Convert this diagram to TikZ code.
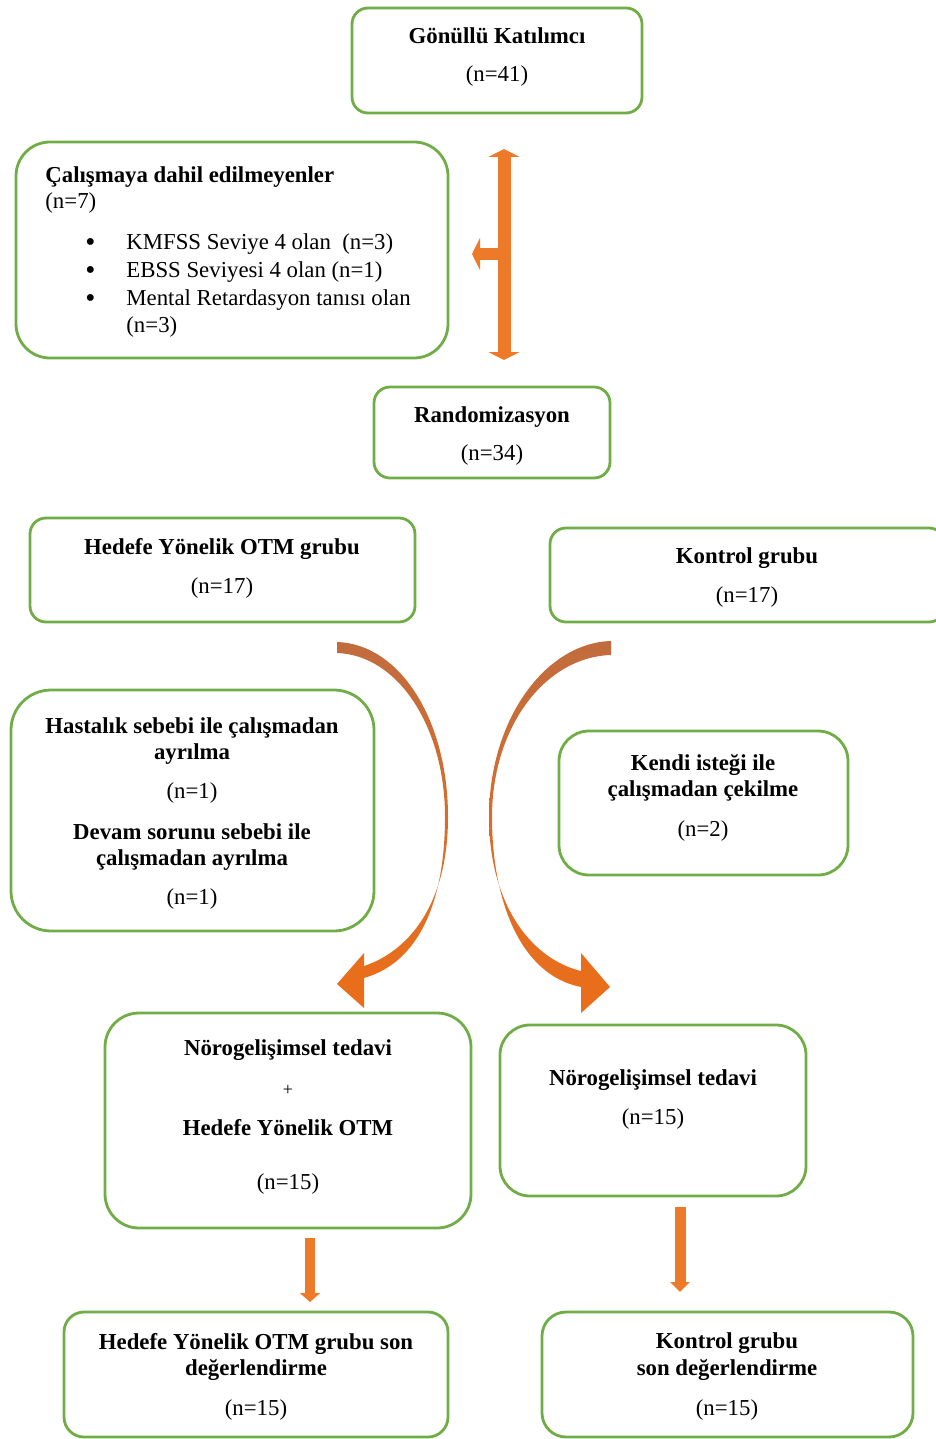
\documentclass[tikz,border=0pt]{standalone}
\usepackage{fontspec}
\setmainfont{Liberation Serif}
\usetikzlibrary{arrows.meta}
\definecolor{boxgreen}{RGB}{112,173,71}
\definecolor{arroworange}{RGB}{237,122,40}
\definecolor{curvebrown}{RGB}{193,108,62}
\definecolor{curveorange}{RGB}{233,110,28}
\tikzset{
  grbox/.style={draw=boxgreen,line width=1.4pt,rounded corners=8pt,inner sep=0pt},
  bigbox/.style={grbox,rounded corners=17pt},
  txt/.style={align=center,inner sep=0pt,yshift=-1.25pt,font=\fontsize{11.4}{13}\selectfont},
  thickarrow/.style={draw=arroworange,line width=#1},
  thickarrow/.default=6pt,
}
\newcommand{\itm}[1]{\hspace*{20pt}\makebox[20.5pt][l]{\raisebox{-0.6pt}{\Large\textbullet}}#1}

\begin{document}
\begin{tikzpicture}[x=0.5pt,y=-0.5pt]
\useasboundingbox (0,0) rectangle (936,1439);

% top part
\node[grbox,minimum width=145pt,minimum height=52.5pt] (gon) at (497,60.5) {};
\node[txt] (gon-t) at (497,55) {\textbf{Gönüllü Katılımcı}\\[6pt](n=41)};

\node[bigbox,minimum width=216pt,minimum height=108pt] (cal) at (232,250) {};
\node[txt,align=left,anchor=west] (cal-t) at (45,250) {\textbf{Çalışmaya dahil edilmeyenler}\\(n=7)\\[7.5pt]
  \itm{KMFSS Seviye 4 olan \ (n=3)}\\[1pt]
  \itm{EBSS Seviyesi 4 olan (n=1)}\\[1pt]
  \itm{Mental Retardasyon tanısı olan}\\[0.5pt]
  \hspace*{40.5pt}(n=3)};

\node[grbox,minimum width=118pt,minimum height=45.5pt] (ran) at (492,432.5) {};
\node[txt] (ran-t) at (492,434) {\textbf{Randomizasyon}\\[6pt](n=34)};

% vertical arrow
\coordinate (vtop) at (504,149);
\coordinate (vbot) at (504,360);
\coordinate (vmid) at (504,254);
\coordinate (vleft) at (472,254);
\draw[thickarrow=6.5pt,{Triangle[width=15.5pt,length=4pt]}-{Triangle[width=15.5pt,length=4pt]}] (vtop) -- (vbot);
\draw[thickarrow,-{Triangle[width=16pt,length=4pt]}] (vmid) -- (vleft);

% groups
\node[grbox,minimum width=192.5pt,minimum height=52pt] (hed) at (222.5,570) {};
\node[txt] (hed-t) at (222,565.5) {\textbf{Hedefe Yönelik OTM grubu}\\[6.5pt](n=17)};

\node[grbox,minimum width=197.5pt,minimum height=47pt] (kon) at (747.5,575) {};
\node[txt] (kon-t) at (747,575.5) {\textbf{Kontrol grubu}\\[6.5pt](n=17)};

% drop outs
\node[bigbox,rounded corners=20pt,minimum width=181.5pt,minimum height=120.5pt] (has) at (192.5,810.5) {};
\node[txt] (has-t) at (192,811.5) {\textbf{Hastalık sebebi ile çalışmadan}\\\textbf{ayrılma}\\[6.5pt](n=1)\\[7.5pt]
  \textbf{Devam sorunu sebebi ile}\\\textbf{çalışmadan ayrılma}\\[6.5pt](n=1)};

\node[bigbox,rounded corners=15pt,minimum width=144.5pt,minimum height=72pt] (ken) at (703.5,803) {};
\node[txt] (ken-t) at (703,795) {\textbf{Kendi isteği ile}\\\textbf{çalışmadan çekilme}\\[7pt](n=2)};

% curved arrows
\shade[top color=curvebrown,bottom color=curveorange]
  (337,642) .. controls (400,644) and (448,720) .. (448,817)
  .. controls (448,900) and (412,950) .. (364,966)
  -- (364,978) .. controls (420,962) and (445,900) .. (445,817)
  .. controls (445,727) and (398,655) .. (337,653) -- cycle;
\fill[curveorange] (364,953) -- (337,984) -- (364,1008) -- cycle;

\shade[top color=curvebrown,bottom color=curveorange]
  (611,641) .. controls (545,643) and (489,720) .. (489,817)
  .. controls (489,900) and (528,958) .. (581,971)
  -- (581,987) .. controls (520,975) and (492,900) .. (492,817)
  .. controls (492,727) and (545,657) .. (611,655) -- cycle;
\fill[curveorange] (581,953) -- (610,987) -- (581,1013) -- cycle;

% treatment
\node[bigbox,minimum width=183pt,minimum height=107.5pt] (nor1) at (288,1120.5) {};
\node[txt] (nor1-t) at (288,1115) {\textbf{Nörogelişimsel tedavi}\\[7pt]{\small +}\\[7pt]
  \textbf{Hedefe Yönelik OTM}\\[14pt](n=15)};

\node[bigbox,rounded corners=15pt,minimum width=153pt,minimum height=85.5pt] (nor2) at (653,1110.5) {};
\node[txt] (nor2-t) at (653,1097.5) {\textbf{Nörogelişimsel tedavi}\\[6.5pt](n=15)};

% down arrows
\coordinate (la1) at (310,1238);
\coordinate (la2) at (310,1302);
\coordinate (ra1) at (680,1207);
\coordinate (ra2) at (680,1292);
\draw[thickarrow=5pt,-{Triangle[width=10pt,length=4.5pt]}] (la1) -- (la2);
\draw[thickarrow=5.5pt,-{Triangle[width=9.5pt,length=5pt]}] (ra1) -- (ra2);

% final
\node[grbox,rounded corners=10pt,minimum width=192pt,minimum height=62.5pt] (hson) at (256,1374.5) {};
\node[txt] (hson-t) at (256,1374) {\textbf{Hedefe Yönelik OTM grubu son}\\\textbf{değerlendirme}\\[7pt](n=15)};

\node[grbox,rounded corners=12pt,minimum width=185.5pt,minimum height=62.5pt] (kson) at (727.5,1374.5) {};
\node[txt] (kson-t) at (727,1374) {\textbf{Kontrol grubu}\\\textbf{son değerlendirme}\\[7pt](n=15)};
\end{tikzpicture}
\end{document}
